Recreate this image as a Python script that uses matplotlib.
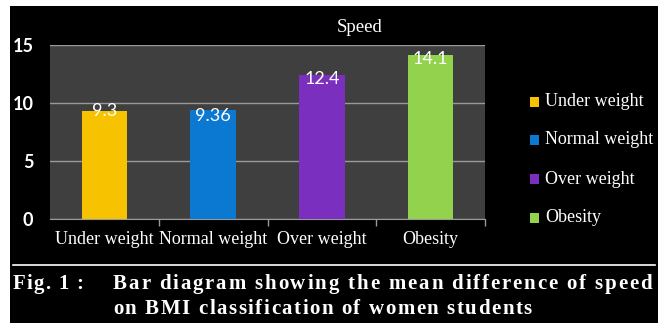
import matplotlib.pyplot as plt
from matplotlib.patches import Rectangle
from matplotlib.font_manager import FontProperties

categories = ['Under weight', 'Normal weight', 'Over weight', 'Obesity']
speed = [9.3, 9.36, 12.4, 14.1]
value_labels = ['9.3', '9.36', '12.4', '14.1']
colors = ['#F7C300', '#0B78D2', '#7A2FBF', '#93D24C']
yticks = [0, 5, 10, 15]
fig_label = 'Fig. 1 :'
caption1 = 'Bar diagram showing the mean difference of speed'
caption2 = 'on BMI classification of women students'

W, H = 663, 323
fig = plt.figure(figsize=(W / 100, H / 100), dpi=100, facecolor='white')

# black panel with thin white margin on top / left / right
fig.patches.append(Rectangle((10 / W, 0), 648 / W, 1 - 6 / H, transform=fig.transFigure,
                             facecolor='black', edgecolor='none', zorder=-5))

ax = fig.add_axes([50 / W, 1 - 219 / H, 435 / W, 174 / H])
ax.set_zorder(2)
ax.set_facecolor('#3f3f3f')
x = range(len(categories))
ax.bar(x, speed, width=0.42, color=colors, zorder=3)
ax.set_xlim(-0.5, 3.5)
ax.set_ylim(0, 15)
ax.set_yticks(yticks)
ax.set_yticklabels([str(t) for t in yticks], color='white', fontsize=13,
                   family='Lato', fontweight='bold')
ax.yaxis.grid(True, color='#9a9a9a', linewidth=1, zorder=1)
ax.tick_params(axis='y', length=0, pad=12)
ax.set_xticks([0.5, 1.5, 2.5, 3.5], minor=True)
ax.set_xticks(list(x))
ax.set_xticklabels(categories, color='white', fontsize=13, family='Liberation Serif')
ax.tick_params(axis='x', which='major', length=0, pad=9)
ax.tick_params(axis='x', which='minor', length=5, color='#9a9a9a', width=1)
for s in ['top', 'right', 'left']:
    ax.spines[s].set_visible(False)
ax.spines['bottom'].set_color('#9a9a9a')

offsets = [0.0, -0.45, -0.3, -0.3]
for i, (v, lab) in enumerate(zip(speed, value_labels)):
    ax.text(i, v + offsets[i], lab, ha='center', va='center', color='white',
            fontsize=13, family='Lato', zorder=4)

fig.text(360 / W, 1 - 28 / H, 'Speed', ha='center', va='center', color='white',
         fontsize=13.5, family='Liberation Serif')

# legend
leg_y = [102, 140, 179, 218]
for c, lab, yy in zip(colors, categories, leg_y):
    fig.patches.append(Rectangle((530 / W, 1 - (yy + 5) / H), 9 / W, 10 / H,
                                 transform=fig.transFigure, facecolor=c, edgecolor='none'))
    fig.text(545 / W, 1 - yy / H, lab, ha='left', va='center', color='white',
             fontsize=13, family='Liberation Serif')

# separator line
fig.add_artist(plt.Line2D([13 / W, 655 / W], [1 - 265 / H, 1 - 265 / H],
                          transform=fig.transFigure, color='white', linewidth=1.2))

# caption with letter spacing (drawn char by char)
cap_prop = FontProperties(family='Liberation Serif', weight='bold', size=15)
fig.canvas.draw()
renderer = fig.canvas.get_renderer()


def text_w(s):
    bar_w = renderer.get_text_width_height_descent('|', cap_prop, ismath=False)[0]
    return renderer.get_text_width_height_descent(s + '|', cap_prop, ismath=False)[0] - bar_w


def spaced_text(x0, y0, s, x1=None, track=1.5):
    if x1 is not None:
        track = (x1 - x0 - text_w(s)) / (len(s) - 1)
    for i, ch in enumerate(s):
        if ch == ' ':
            continue
        xp = x0 + text_w(s[:i]) + i * track
        fig.text(xp / W, 1 - y0 / H, ch, ha='left', va='center', color='white',
                 fontproperties=cap_prop)


spaced_text(13, 284, fig_label, x1=83)
spaced_text(113, 284, caption1, x1=652)
spaced_text(113, 309, caption2, x1=532)

fig.savefig('out.png', dpi=100, facecolor=fig.get_facecolor())
